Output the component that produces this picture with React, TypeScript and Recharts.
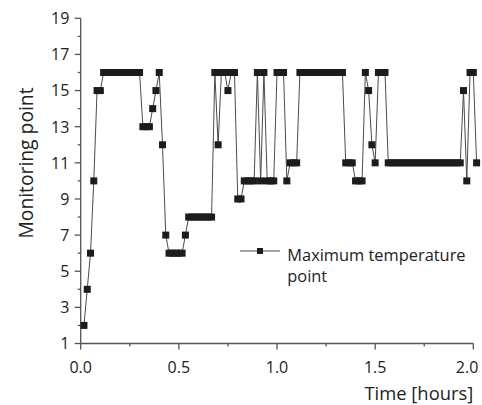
import { Legend, Line, LineChart, ReferenceLine, XAxis, YAxis, Label } from "recharts";

// one reading per minute, plotted in hours
const SAMPLE_STEP_HOURS = 1 / 60;

// index of the hottest monitoring point at each sample
const maxTemperaturePoint = [
  2, 4, 6, 10, 15, 15,
  16, 16, 16, 16, 16, 16, 16, 16, 16, 16, 16, 16,
  13, 13, 13, 14, 15, 16, 12, 7,
  6, 6, 6, 6, 6, 7,
  8, 8, 8, 8, 8, 8, 8, 8,
  16, 12, 16, 16, 15, 16, 16, 9, 9,
  10, 10, 10, 10, 16, 10, 16, 10, 10, 10,
  16, 16, 16, 10, 11, 11, 11,
  16, 16, 16, 16, 16, 16, 16, 16, 16, 16, 16, 16, 16, 16,
  11, 11, 11, 10, 10, 10, 16, 15, 12, 11, 16, 16, 16,
  11, 11, 11, 11, 11, 11, 11, 11, 11, 11, 11, 11, 11, 11, 11, 11, 11, 11, 11, 11, 11, 11, 11,
  15, 10, 16, 16, 11,
];

const X_MAJOR = [0, 0.5, 1, 1.5, 2];
const X_MINOR = [0.25, 0.75, 1.25, 1.75];
const Y_MAJOR = [1, 3, 5, 7, 9, 11, 13, 15, 17, 19];
const Y_MINOR = [2, 4, 6, 8, 10, 12, 14, 16, 18];

const SERIES_NAME = "Maximum temperature point";
const LEGEND_LINES = ["Maximum temperature", "point"];

const data = maxTemperaturePoint.map((point, idx) => ({
  time: (idx + 1) * SAMPLE_STEP_HOURS,
  point,
}));

const FONT = "'Open Sans', sans-serif";
const AXIS_COLOR = "#555";
const TEXT_COLOR = "#222";
const LINE_COLOR = "#4a4a4a";
const MARKER_COLOR = "#1c1c1c";

const xTicks = [...X_MAJOR, ...X_MINOR].sort((a, b) => a - b);
const yTicks = [...Y_MAJOR, ...Y_MINOR].sort((a, b) => a - b);

const XTick = ({ x, y, payload }: any) => {
  const major = X_MAJOR.includes(payload.value);
  // the last label is pulled in so it stays inside the page
  const isLast = payload.value === X_MAJOR[X_MAJOR.length - 1];
  return (
    <g>
      <line x1={x} y1={y} x2={x} y2={y + (major ? 6 : 3)} stroke={AXIS_COLOR} strokeWidth={1.3} />
      {major && (
        <text
          x={isLast ? x + 5 : x}
          y={y + 29.8}
          textAnchor={isLast ? "end" : "middle"}
          fontSize={16}
          fontFamily={FONT}
          fill={TEXT_COLOR}
        >
          {Number(payload.value).toFixed(1)}
        </text>
      )}
    </g>
  );
};

const YTick = ({ x, y, payload }: any) => {
  const major = Y_MAJOR.includes(payload.value);
  return (
    <g>
      <line x1={x} y1={y} x2={x - (major ? 6 : 3)} y2={y} stroke={AXIS_COLOR} strokeWidth={1.3} />
      {major && (
        <text x={x - 11.4} y={y + 5.8} textAnchor="end" fontSize={16} fontFamily={FONT} fill={TEXT_COLOR}>
          {payload.value}
        </text>
      )}
    </g>
  );
};

const SquareDot = ({ cx, cy, index }: any) => (
  <rect key={`dot-${index}`} x={cx - 3.5} y={cy - 3.5} width={7} height={7} fill={MARKER_COLOR} />
);

const LegendBox = () => (
  <svg width={245} height={55}>
    <line x1={10} y1={16} x2={50} y2={16} stroke={LINE_COLOR} strokeWidth={1.2} />
    <rect x={27} y={13} width={6} height={6} fill={MARKER_COLOR} />
    {LEGEND_LINES.map((line, idx) => (
      <text key={line} x={57.3} y={25.5 + idx * 21.5} fontSize={16.4} fontFamily={FONT} fill={TEXT_COLOR}>
        {line}
      </text>
    ))}
  </svg>
);

export default function App() {
  return (
    <div style={{ width: 482, height: 405 }}>
      <style>{"body{margin:0}"}</style>
      <LineChart width={482} height={405} data={data} margin={{ top: 18.3, right: 5.4, bottom: 0, left: 0 }}>
        <XAxis
          dataKey="time"
          type="number"
          domain={[0, "dataMax"]}
          ticks={xTicks}
          interval={0}
          axisLine={false}
          tickLine={false}
          tickSize={0}
          tickMargin={0}
          tick={<XTick />}
          height={61.5}
        >
          <Label
            content={() => (
              <text x={473.3} y={400} textAnchor="end" fontSize={18.4} fontFamily={FONT} fill={TEXT_COLOR}>
                Time [hours]
              </text>
            )}
          />
        </XAxis>
        <YAxis
          type="number"
          domain={[1, 19]}
          ticks={yTicks}
          interval={0}
          axisLine={{ stroke: AXIS_COLOR, strokeWidth: 1.3 }}
          tickLine={false}
          tickSize={0}
          tickMargin={0}
          tick={<YTick />}
          width={80.7}
        >
          <Label
            content={() => (
              <text
                x={32.5}
                y={163}
                textAnchor="middle"
                fontSize={19.3}
                fontFamily={FONT}
                fill={TEXT_COLOR}
                transform="rotate(-90 32.5 163)"
              >
                Monitoring point
              </text>
            )}
          />
        </YAxis>
        <ReferenceLine
          segment={[
            { x: X_MAJOR[0], y: Y_MAJOR[0] },
            { x: X_MAJOR[X_MAJOR.length - 1], y: Y_MAJOR[0] },
          ]}
          stroke={AXIS_COLOR}
          strokeWidth={1.3}
        />
        <Legend
          layout="vertical"
          align="center"
          verticalAlign="middle"
          wrapperStyle={{ left: 230, top: 235, width: 245, height: 55 }}
          content={() => <LegendBox />}
        />
        <Line
          name={SERIES_NAME}
          type="linear"
          dataKey="point"
          stroke={LINE_COLOR}
          strokeWidth={1}
          dot={<SquareDot />}
          activeDot={false}
          isAnimationActive={false}
        />
      </LineChart>
    </div>
  );
}
